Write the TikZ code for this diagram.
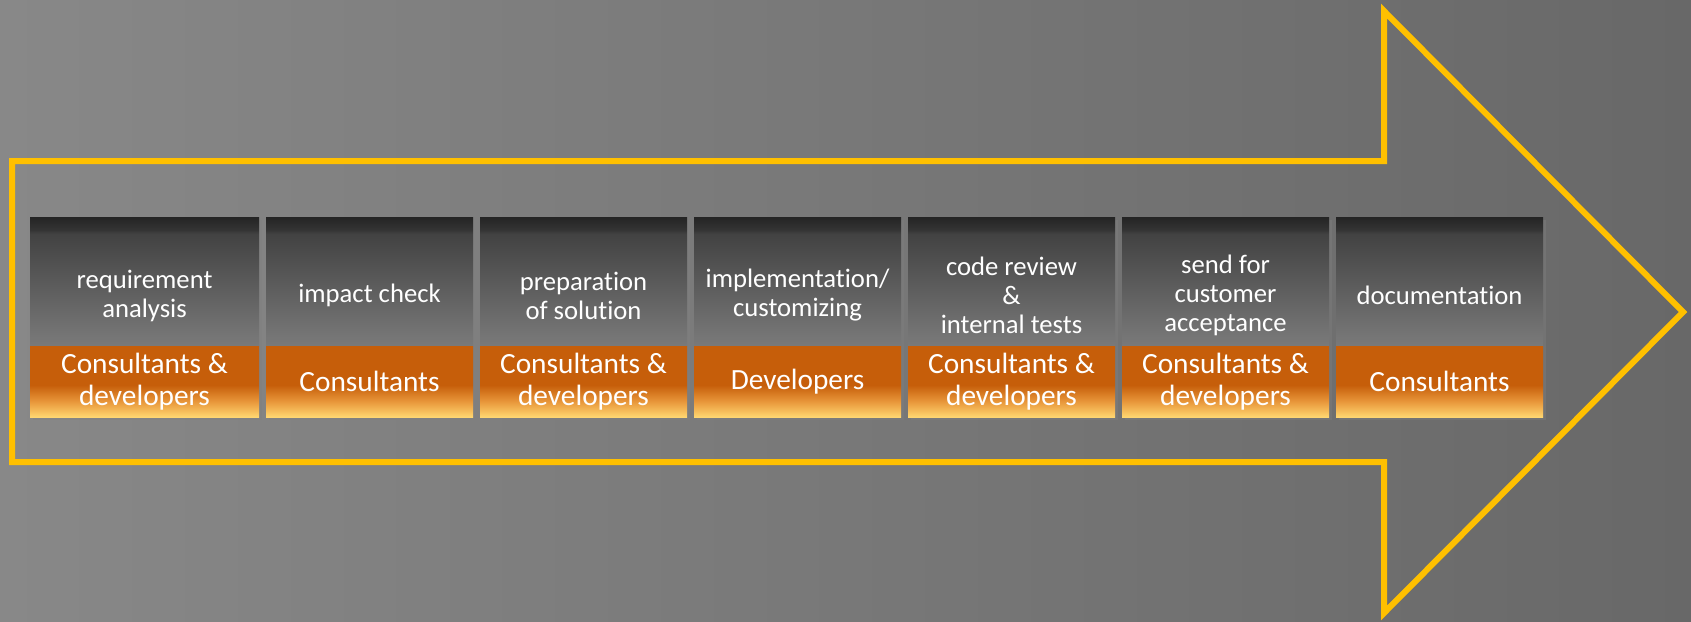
\documentclass[tikz,border=0pt]{standalone}
\usepackage{fontspec}
\setmainfont{Carlito}[Ligatures={TeX,NoCommon}]
\usetikzlibrary{shadows}
\definecolor{arrowgold}{RGB}{255,192,0}
\definecolor{boxdark}{RGB}{36,36,36}
\definecolor{boxband}{RGB}{52,52,52}
\definecolor{boxmid}{RGB}{66,66,66}
\definecolor{boxlight}{RGB}{122,122,122}
\definecolor{roleorange}{RGB}{198,94,10}
\definecolor{roleamber}{RGB}{232,150,58}
\definecolor{roleyellow}{RGB}{255,214,112}
\definecolor{bgleft}{RGB}{136,136,136}
\definecolor{bgright}{RGB}{104,104,104}
\pgfdeclareverticalshading{stepshade}{100bp}{color(0bp)=(boxlight); color(25bp)=(boxlight); color(68.5bp)=(boxmid); color(70bp)=(boxband); color(75bp)=(boxdark); color(100bp)=(boxdark)}
\pgfdeclareverticalshading{roleshade}{100bp}{color(0bp)=(roleyellow); color(25bp)=(roleyellow); color(36bp)=(roleamber); color(47.5bp)=(roleorange); color(75bp)=(roleorange); color(100bp)=(roleorange)}

\begin{document}
\begin{tikzpicture}[
    x=0.75pt, y=-0.75pt,
    stepbox/.style={shade, shading=stepshade, minimum width=155.25pt, minimum height=96.75pt, inner sep=0pt, outer sep=0pt, anchor=north west, drop shadow={shadow xshift=2pt, shadow yshift=-2.5pt, opacity=0.4}},
    widestep/.style={stepbox, minimum width=171.75pt},
    steptext/.style={text=white, align=center, font=\fontsize{20}{21.75}\selectfont, yshift=-10.5pt},
    rolebox/.style={shade, shading=roleshade, text=white, align=center, font=\fontsize{22}{24}\selectfont, minimum width=155.25pt, minimum height=53.25pt, inner sep=0pt, outer sep=0pt, anchor=north, drop shadow={shadow xshift=2pt, shadow yshift=-2.5pt, opacity=0.4}},
    widerole/.style={rolebox, minimum width=171.75pt},
    outline/.style={draw=arrowgold, line width=4.5pt, line join=miter}
]
\useasboundingbox (0,0) rectangle (1691,621);
\fill[left color=bgleft, right color=bgright] (0,0) rectangle (1691,621);

% big arrow
\draw[outline] (12,161) -- (1384,161) -- (1384,11) -- (1683,312) -- (1384,613) -- (1384,462) -- (12,462) -- cycle;

% steps
\node[widestep, label={[steptext]center:{requirement\\analysis}}] (req) at (30,217) {};
\node[stepbox, label={[steptext]center:{impact check}}] (impact) at (266,217) {};
\node[stepbox, label={[steptext]center:{preparation\\of solution}}] (prep) at (480,217) {};
\node[stepbox, label={[steptext]center:{implementation/\\customizing}}] (impl) at (694,217) {};
\node[stepbox, label={[steptext]center:{code review\\\&\\internal tests}}] (review) at (908,217) {};
\node[stepbox, label={[steptext]center:{send for\\customer\\acceptance}}] (send) at (1122,217) {};
\node[stepbox, label={[steptext]center:{documentation}}] (doc) at (1336,217) {};

% who does it
\node[widerole] (reqrole) at (req.south) {Consultants \&\\developers};
\node[rolebox] (impactrole) at (impact.south) {Consultants};
\node[rolebox] (preprole) at (prep.south) {Consultants \&\\developers};
\node[rolebox] (implrole) at (impl.south) {Developers};
\node[rolebox] (reviewrole) at (review.south) {Consultants \&\\developers};
\node[rolebox] (sendrole) at (send.south) {Consultants \&\\developers};
\node[rolebox] (docrole) at (doc.south) {Consultants};

\end{tikzpicture}
\end{document}
